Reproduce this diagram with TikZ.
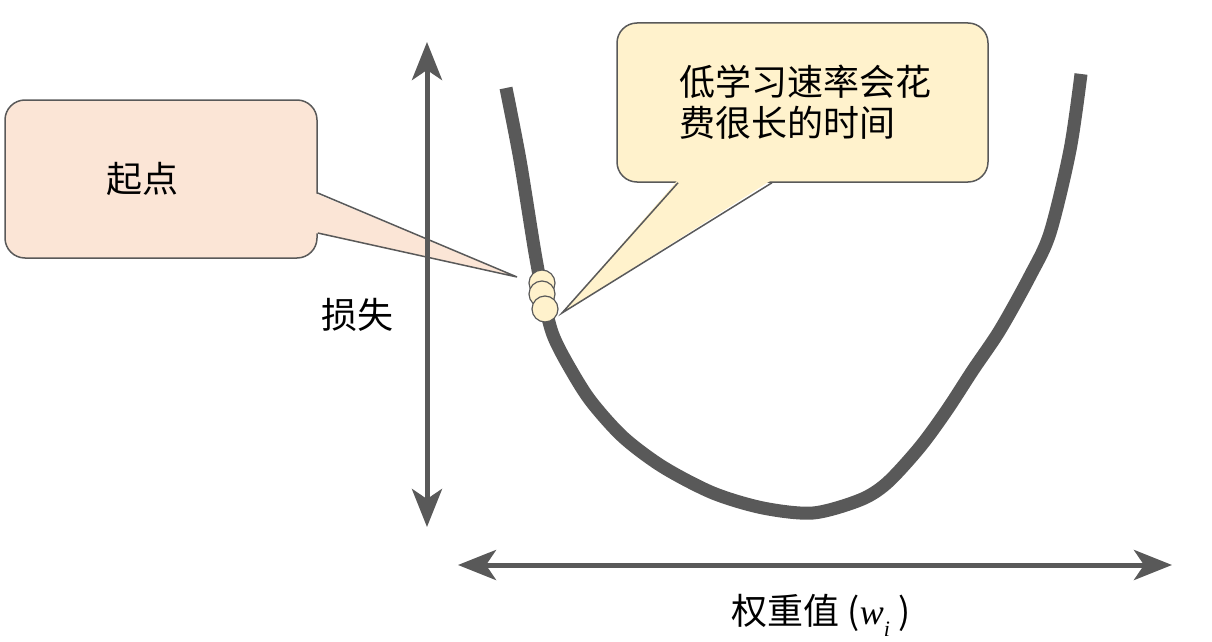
\documentclass[tikz,border=0pt]{standalone}
\usepackage{fontspec}
\setmainfont{Noto Sans CJK SC}
\newfontfamily\varfont{Liberation Serif}
\usetikzlibrary{arrows.meta, calc, positioning}
\definecolor{axisgray}{HTML}{595959}
\definecolor{peach}{HTML}{FBE5D6}
\definecolor{cream}{HTML}{FFF2CC}
\tikzstyle{bubble} = [rectangle, rounded corners=20pt, draw=axisgray, line width=1.5pt]
\tikzstyle{startbox} = [bubble, fill=peach, minimum width=312pt, minimum height=158pt]
\tikzstyle{slowbox} = [bubble, fill=cream, minimum width=371pt, minimum height=159pt]
\tikzstyle{boxtext} = [inner sep=0pt, align=left, font=\fontsize{36}{41}\selectfont]
\tikzstyle{axislabel} = [inner sep=0pt, font=\fontsize{36}{41}\selectfont]
\tikzstyle{ball} = [circle, minimum size=26pt, inner sep=0pt, draw=axisgray, line width=1.2pt, fill=cream]
\tikzstyle{pointer} = [draw=axisgray, line width=1.5pt, line join=miter]
\tikzstyle{axisline} = [line width=5pt, draw=axisgray, {Stealth[length=38pt,width=30pt,inset=10pt]}-{Stealth[length=38pt,width=30pt,inset=10pt]}]
\tikzstyle{losscurve} = [line width=13pt, draw=axisgray]

\begin{document}
\begin{tikzpicture}[x=1pt, y=-1pt]
\useasboundingbox (0,0) rectangle (1212,642);

% callout boxes
\node (start) [startbox] at (161,179) {};
\node (slow) [slowbox] at (802.5,102.5) {};
\node (startText) [boxtext, right=102pt of start.west] {起点};
\node (slowText) [boxtext, right=63pt of slow.west] {低学习速率会花\\费很长的时间};

\coordinate (tipStart) at (517,277);
\coordinate (tipSlow) at (562,313);

% pointers
\fill[peach] ($(start.east)+(-3,14)$) -- (tipStart) -- ($(start.east)+(-3,54)$) -- cycle;
\draw[pointer] ($(start.east)+(0,14)$) -- (tipStart) -- ($(start.east)+(0,54)$);
\fill[cream] ($(slow.south)+(-124.5,-3)$) -- (tipSlow) -- ($(slow.south)+(-30.5,-3)$) -- cycle;
\draw[pointer] ($(slow.south)+(-124.5,0)$) -- (tipSlow) -- ($(slow.south)+(-30.5,0)$);

% axes
\coordinate (yTop) at (427,42);
\coordinate (yBot) at (427,527);
\coordinate (xLeft) at (458,565);
\coordinate (xRight) at (1172,565);
\draw[axisline] (yBot) -- (yTop);
\draw[axisline] (xLeft) -- (xRight);

% loss curve
\draw[losscurve] plot[smooth, tension=0.5] coordinates {(506,88) (520,160) (535,253) (545,305) (553,335) (567,363) (590,400) (623,437) (663,467) (713,493) (763,508) (813,513) (860,500) (887,483) (920,447) (947,410) (973,370) (1000,330) (1030,276) (1050,233) (1070,150) (1081,74)};

% balls
\node (ball1) [ball] at (542,283) {};
\node (ball2) [ball] at (542,294) {};
\node (ball3) [ball] at (545,309) {};

\node (lossLabel) [axislabel] at (357,315) {损失};
\node (weightLabel) [axislabel] at (821,615) {权重值 ({\varfont\itshape w}\raisebox{-12pt}{\fontsize{22}{22}\selectfont\varfont\itshape i} )};
\end{tikzpicture}
\end{document}
